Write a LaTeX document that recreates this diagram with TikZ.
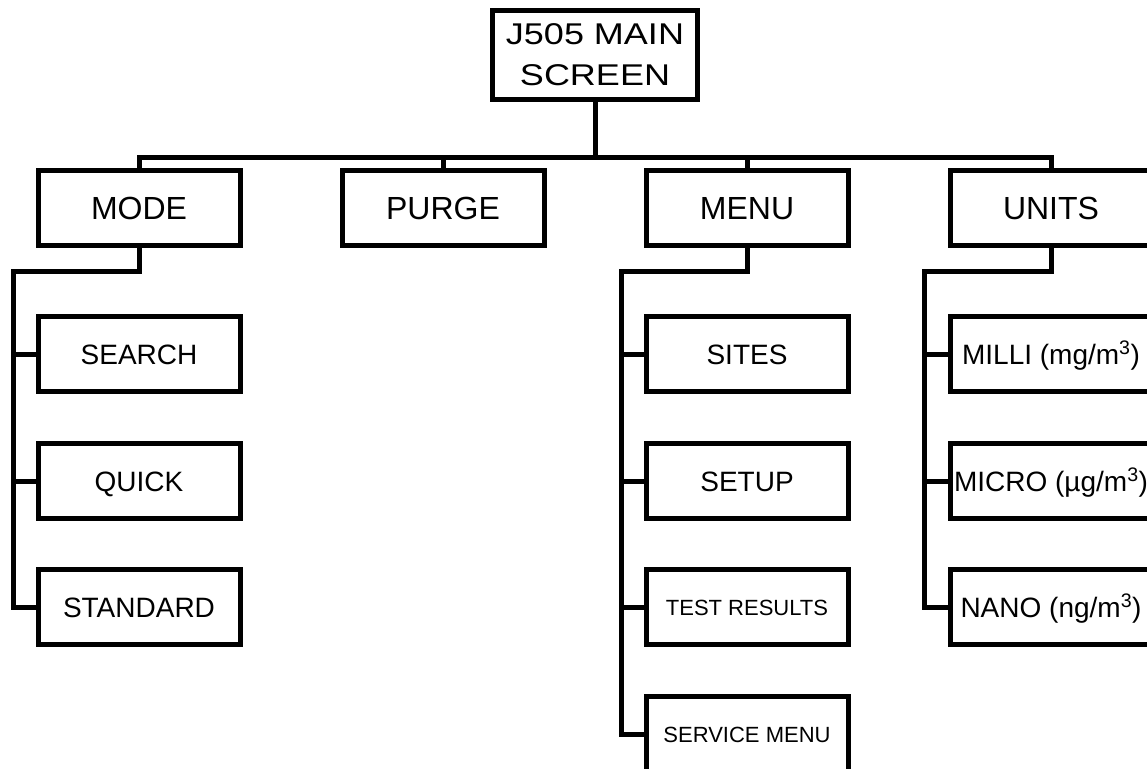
\documentclass[tikz,border=0pt]{standalone}
\usepackage{fontspec}
\setmainfont{Liberation Sans}
\newfontfamily\widefont[FakeStretch=1.2]{Liberation Sans}
\usepackage{tikz}

\begin{document}
\begin{tikzpicture} [x=1pt, y=-1pt, line width=5pt, line join=miter,
	box/.style={draw, minimum width=202pt, minimum height=75pt, inner sep=0pt, text height=20pt, text depth=0pt, font=\fontsize{28}{32}\selectfont},
	topbox/.style={box, text height=23pt, font=\fontsize{32}{36}\selectfont},
	smallbox/.style={box, text height=16pt, font=\fontsize{22}{26}\selectfont}]
	\useasboundingbox (0,0) rectangle (1147,768);
	\clip (0,0) rectangle (1147,768);
	\node [draw, minimum width=205pt, minimum height=89pt, inner sep=0pt, align=center, font=\widefont\fontsize{30}{41}\selectfont] (main) at (595,55) {J505 MAIN\\SCREEN};
	\node [topbox] (mode) at (139,208) {MODE};
	\node [topbox] (purge) at (443,208) {PURGE};
	\node [topbox] (menu) at (747,208) {MENU};
	\node [topbox] (units) at (1051,208) {UNITS};
		\node [box] (search) at (139,354) {SEARCH};
		\node [box] (quick) at (139,481) {QUICK};
		\node [box] (standard) at (139,607) {STANDARD};
		\node [box] (sites) at (747,354) {SITES};
		\node [box] (setup) at (747,481) {SETUP};
		\node [smallbox] (results) at (747,607) {TEST RESULTS};
		\node [smallbox] (service) at (747,734) {SERVICE MENU};
		\node [box] (milli) at (1051,354) {MILLI (mg/m\textsuperscript{3})};
		\node [box] (micro) at (1051,481) {MICRO (µg/m\textsuperscript{3})};
		\node [box] (nano) at (1051,607) {NANO (ng/m\textsuperscript{3})};
	\coordinate (bus) at (595,157);
	\coordinate (modejoint) at (13,271);
	\coordinate (menujoint) at (621,271);
	\coordinate (unitsjoint) at (924,271);
	\draw (main) -- (bus);
	\draw (mode.north) |- (bus) -| (units.north);
	\draw (purge.north) -- (purge.north |- bus);
	\draw (menu.north) -- (menu.north |- bus);
	\draw (mode.south) |- (modejoint) |- (standard.west);
	\draw (search.west) -- (search.west -| modejoint);
	\draw (quick.west) -- (quick.west -| modejoint);
	\draw (menu.south) |- (menujoint) |- (service.west);
	\draw (sites.west) -- (sites.west -| menujoint);
	\draw (setup.west) -- (setup.west -| menujoint);
	\draw (results.west) -- (results.west -| menujoint);
	\draw (units.south) |- (unitsjoint) |- (nano.west);
	\draw (milli.west) -- (milli.west -| unitsjoint);
	\draw (micro.west) -- (micro.west -| unitsjoint);
\end{tikzpicture}
\end{document}
